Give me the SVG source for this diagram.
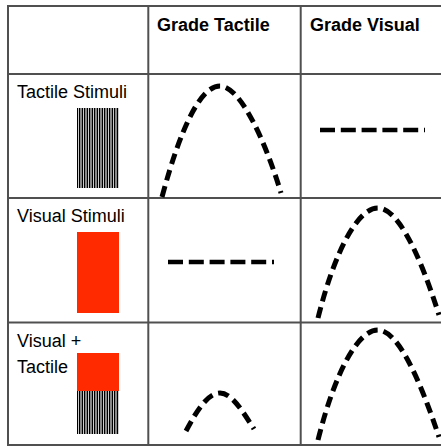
<svg xmlns="http://www.w3.org/2000/svg" width="441" height="447" viewBox="0 0 441 447">
  <defs>
    <pattern id="stripes" patternUnits="userSpaceOnUse" x="77" y="0" width="5" height="10">
      <rect x="0" y="0" width="1.2" height="10" fill="#000"/>
      <rect x="2" y="0" width="1" height="10" fill="#000"/>
      <rect x="3.5" y="0" width="1" height="10" fill="#111"/>
    </pattern>
  </defs>
  <style>
    .grid { stroke: #505050; stroke-width: 2; fill: none; }
    .hdr { font-family: "Liberation Sans", Arial, sans-serif; font-weight: bold; font-size: 18px; fill: #000; }
    .lbl { font-family: "Liberation Sans", Arial, sans-serif; font-size: 18px; fill: #000; }
    .curve { fill: none; stroke: #000; stroke-width: 5; stroke-dasharray: 11 6; }
    .flat { fill: none; stroke: #000; stroke-width: 4.5; stroke-dasharray: 15 5.8; }
    .red { fill: #ff2a00; }
    .str { fill: url(#stripes); }
  </style>
  <rect width="441" height="447" fill="#fff"/>
  <g id="grid">
    <line class="grid" x1="7" y1="6" x2="441" y2="6"/>
    <line class="grid" x1="7" y1="74" x2="441" y2="74"/>
    <line class="grid" x1="7" y1="198" x2="441" y2="198"/>
    <line class="grid" x1="7" y1="322.5" x2="441" y2="322.5"/>
    <line class="grid" x1="7" y1="445" x2="441" y2="445"/>
    <line class="grid" x1="8" y1="5" x2="8" y2="446"/>
    <line class="grid" x1="148.3" y1="5" x2="148.3" y2="446"/>
    <line class="grid" x1="300.7" y1="5" x2="300.7" y2="446"/>
  </g>
  <g id="header-tactile"><text class="hdr" x="157" y="31">Grade Tactile</text></g>
  <g id="header-visual"><text class="hdr" x="310" y="31">Grade Visual</text></g>
  <g id="row-tactile">
    <text class="lbl" x="17" y="98">Tactile Stimuli</text>
    <rect class="str" x="77" y="108" width="42" height="80"/>
  </g>
  <g id="row-visual">
    <text class="lbl" x="17" y="222">Visual Stimuli</text>
    <rect class="red" x="77" y="232" width="42" height="81"/>
  </g>
  <g id="row-both">
    <text class="lbl" x="17" y="347">Visual +</text>
    <text class="lbl" x="17" y="373">Tactile</text>
    <rect class="red" x="77" y="353" width="42" height="38"/>
    <rect class="str" x="77" y="391" width="42" height="43"/>
  </g>
  <g id="connectors">
    <path id="c-tt" class="curve" d="M162,197 C180,130 200,86 220,86 C240,86 265,140 281,193"/>
    <path id="c-tv" class="flat" d="M320,130 H425"/>
    <path id="c-vt" class="flat" d="M168,262 H274"/>
    <path id="c-vv" class="curve" d="M318,318 C335,250 358,208 378,208 C398,208 420,255 439,315"/>
    <path id="c-bt" class="curve" d="M186,431 C197,410 208,393 220,393 C232,393 243,412 254,429"/>
    <path id="c-bv" class="curve" d="M318,440 C335,372 358,330 378,330 C398,330 420,380 439,437"/>
  </g>
</svg>
